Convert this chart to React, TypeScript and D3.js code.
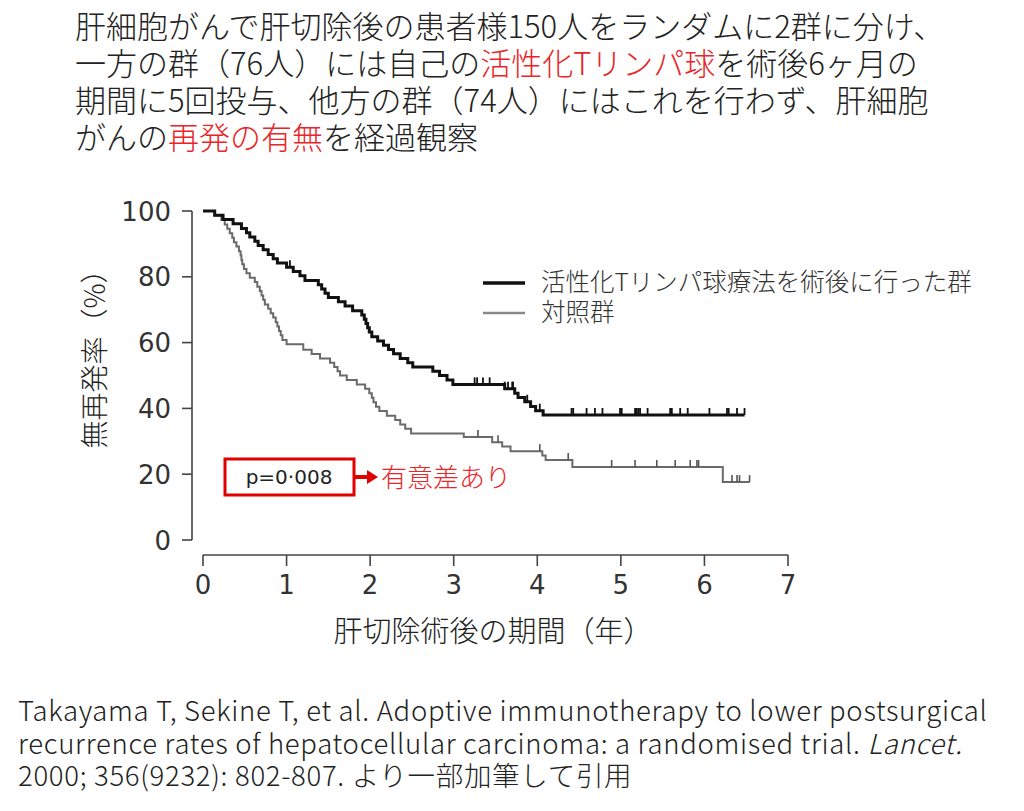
import React from "react";
import * as d3 from "d3";

// ---- data ----
const treatTimes = [0, 0.14, 0.24, 0.36, 0.46, 0.52, 0.56, 0.62, 0.66, 0.72, 0.78, 0.84, 0.89, 1.0, 1.08, 1.16, 1.22, 1.38, 1.42, 1.46, 1.5, 1.62, 1.7, 1.79, 1.9, 1.93, 1.95, 1.97, 1.99, 2.02, 2.09, 2.16, 2.22, 2.28, 2.36, 2.45, 2.51, 2.75, 2.83, 2.92, 2.99, 3.61, 3.73, 3.77, 3.85, 3.92, 3.98, 4.07];
const treatSurv = [100, 98.7, 97.4, 96.1, 94.7, 93.4, 92.1, 90.8, 89.5, 88.2, 86.8, 85.5, 84.2, 82.9, 81.6, 80.3, 78.9, 77.6, 76.3, 75, 73.7, 72.4, 71.1, 69.7, 68.4, 67.1, 65.8, 64.5, 63.2, 61.8, 60.5, 59.2, 57.9, 56.6, 55.2, 53.9, 52.6, 51.3, 50, 48.6, 47.3, 46, 44.6, 43.3, 42, 40.6, 39.3, 38];
const treatEnd = 6.48;
const treatCensor = [1.04, 3.25, 3.28, 3.35, 3.43, 3.61, 3.65, 3.7, 3.71, 3.88, 4.03, 4.41, 4.43, 4.59, 4.69, 4.78, 4.99, 5.01, 5.17, 5.19, 5.21, 5.23, 5.32, 5.59, 5.61, 5.71, 5.8, 6.06, 6.27, 6.29, 6.39, 6.48];

const ctrlTimes = [0, 0.14, 0.22, 0.26, 0.29, 0.32, 0.35, 0.37, 0.4, 0.43, 0.45, 0.46, 0.47, 0.49, 0.52, 0.56, 0.62, 0.65, 0.68, 0.7, 0.72, 0.74, 0.78, 0.81, 0.84, 0.87, 0.89, 0.91, 0.93, 0.95, 1.0, 1.2, 1.3, 1.4, 1.52, 1.57, 1.61, 1.64, 1.72, 1.84, 1.94, 1.99, 2.02, 2.04, 2.07, 2.11, 2.2, 2.3, 2.36, 2.42, 2.49, 3.12, 3.46, 3.58, 3.68, 4.06, 4.1, 4.42, 6.22];
const ctrlSurv = [100, 98.6, 97.3, 95.9, 94.6, 93.2, 91.9, 90.5, 89.2, 87.8, 86.5, 85.1, 83.8, 82.4, 81.1, 79.7, 78.4, 77, 75.7, 74.3, 73, 71.6, 70.3, 68.9, 67.6, 66.2, 64.9, 63.5, 62.2, 60.8, 59.5, 57.8, 56.5, 55.2, 53.9, 52.6, 51.3, 50, 48.6, 47.3, 46, 44.6, 43.2, 41.9, 40.5, 39.2, 37.8, 36.5, 35.1, 33.8, 32.4, 31.3, 29.7, 28.4, 27, 25.7, 24.3, 22.2, 17.6];
const ctrlEnd = 6.54;
const ctrlCensor = [3.29, 3.53, 4.03, 4.37, 4.89, 5.17, 5.43, 5.65, 5.83, 5.91, 5.93, 6.33, 6.39, 6.42, 6.54];

const xTicks = [0, 1, 2, 3, 4, 5, 6, 7];
const yTicks = [0, 20, 40, 60, 80, 100];

const legendLabels = ["活性化Tリンパ球療法を術後に行った群", "対照群"];

const CJK = "'Noto Sans CJK JP', 'Noto Sans', sans-serif";
const NUM = "'DejaVu Sans', sans-serif";
const RED = "#e8262a";

function stepPath(times: number[], surv: number[], end: number, x: any, y: any) {
  const pts: [number, number][] = times.map((t, i) => [t, surv[i]]);
  pts.push([end, surv[surv.length - 1]]);
  return d3.line<[number, number]>().x(d => x(d[0])).y(d => y(d[1])).curve(d3.curveStepAfter)(pts) || "";
}

function survAt(times: number[], surv: number[], t: number) {
  const i = d3.bisectRight(times, t) - 1;
  return surv[Math.max(0, i)];
}

export default function App() {
  const x = d3.scaleLinear().domain([0, 7]).range([203, 788]);
  const y = d3.scaleLinear().domain([0, 100]).range([540, 211]);
  const yAxisX = 192;
  const xAxisY = 555;

  return (
    <svg width={1024} height={811} style={{ position: "absolute", left: 0, top: 0, background: "#fff" }}>
      {/* title */}
      <g fontFamily={CJK} fontSize={31} fontWeight={300} fill="#222">
        <text x={75} y={38}>肝細胞がんで肝切除後の患者様150人をランダムに2群に分け、</text>
        <text x={75} y={75}>一方の群（76人）には自己の<tspan fill={RED}>活性化Tリンパ球</tspan>を術後6ヶ月の</text>
        <text x={75} y={112}>期間に5回投与、他方の群（74人）にはこれを行わず、肝細胞</text>
        <text x={75} y={149}>がんの<tspan fill={RED}>再発の有無</tspan>を経過観察</text>
      </g>

      {/* y axis */}
      <g stroke="#444" strokeWidth={1.6}>
        <line x1={yAxisX} x2={yAxisX} y1={y(100)} y2={y(0)} />
        {yTicks.map(v => (
          <line key={v} x1={yAxisX - 10} x2={yAxisX} y1={y(v)} y2={y(v)} />
        ))}
      </g>
      <g fontFamily={NUM} fontSize={26} fill="#333" textAnchor="end">
        {yTicks.map(v => (
          <text key={v} x={171} y={y(v) + 9.5}>{v}</text>
        ))}
      </g>

      {/* x axis */}
      <g stroke="#444" strokeWidth={1.6}>
        <line x1={x(0)} x2={x(7)} y1={xAxisY} y2={xAxisY} />
        {xTicks.map(v => (
          <line key={v} x1={x(v)} x2={x(v)} y1={xAxisY} y2={xAxisY + 11} />
        ))}
      </g>
      <g fontFamily={NUM} fontSize={26} fill="#333" textAnchor="middle">
        {xTicks.map(v => (
          <text key={v} x={x(v)} y={594}>{v}</text>
        ))}
      </g>

      {/* axis titles */}
      <text x={493} y={642} fontFamily={CJK} fontSize={29} fontWeight={300} fill="#222" textAnchor="middle">肝切除術後の期間（年）</text>
      <text transform="translate(105,352) rotate(-90)" fontFamily={CJK} fontSize={28} fontWeight={300} fill="#222" textAnchor="middle">無再発率（%）</text>

      {/* curves */}
      <path d={stepPath(ctrlTimes, ctrlSurv, ctrlEnd, x, y)} fill="none" stroke="#6a6a6a" strokeWidth={2} />
      <path d={stepPath(treatTimes, treatSurv, treatEnd, x, y)} fill="none" stroke="#111" strokeWidth={3} />
      <g stroke="#555" strokeWidth={1.6}>
        {ctrlCensor.map((t, i) => {
          const s = survAt(ctrlTimes, ctrlSurv, t);
          return <line key={i} x1={x(t)} x2={x(t)} y1={y(s)} y2={y(s) - 7} />;
        })}
      </g>
      <g stroke="#111" strokeWidth={1.8}>
        {treatCensor.map((t, i) => {
          const s = survAt(treatTimes, treatSurv, t);
          return <line key={i} x1={x(t)} x2={x(t)} y1={y(s)} y2={y(s) - 7} />;
        })}
      </g>

      {/* legend */}
      <line x1={483} x2={525} y1={283} y2={283} stroke="#111" strokeWidth={3.5} />
      <line x1={483} x2={525} y1={313} y2={313} stroke="#888" strokeWidth={2.5} />
      <g fontFamily={CJK} fontSize={24.5} fontWeight={300} fill="#333">
        <text x={541} y={291}>{legendLabels[0]}</text>
        <text x={541} y={321}>{legendLabels[1]}</text>
      </g>

      {/* p-value box and arrow */}
      <rect x={225} y={459} width={129} height={36} fill="#fff" stroke="#e00000" strokeWidth={3} />
      <text x={289} y={484} fontFamily={NUM} fontSize={20} fill="#222" textAnchor="middle">p=0·008</text>
      <line x1={355} x2={369} y1={477} y2={477} stroke="#e00000" strokeWidth={4} />
      <path d="M367,470 L378,477 L367,484 Z" fill="#e00000" />
      <text x={381} y={487} fontFamily={CJK} fontSize={26} fontWeight={300} fill={RED}>有意差あり</text>

      {/* citation */}
      <g fontFamily={CJK} fontSize={27.5} fontWeight={300} fill="#222" letterSpacing={0.7}>
        <text x={18} y={721}>Takayama T, Sekine T, et al. Adoptive immunotherapy to lower postsurgical</text>
        <text x={18} y={754}>recurrence rates of hepatocellular carcinoma: a randomised trial. <tspan fontStyle="italic">Lancet.</tspan></text>
        <text x={18} y={786}>2000; 356(9232): 802-807. より一部加筆して引用</text>
      </g>
    </svg>
  );
}
